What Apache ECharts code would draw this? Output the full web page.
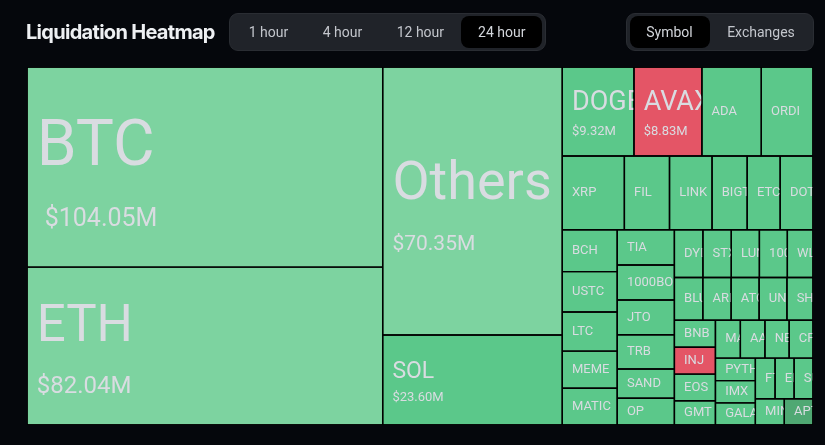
<!DOCTYPE html>
<html>
<head>
<meta charset="utf-8">
<script src="https://cdn.jsdelivr.net/npm/echarts@6/dist/echarts.min.js"></script>
<style>
html,body{margin:0;padding:0;background:#05070c;width:825px;height:445px;overflow:hidden;font-family:Roboto,sans-serif;}
#chart{position:absolute;left:0;top:0;width:825px;height:445px;}
.title{position:absolute;left:26px;top:19px;font-family:Inter,Roboto,sans-serif;font-weight:700;font-size:20px;letter-spacing:-0.7px;color:#eef0f3;line-height:26px;white-space:nowrap;}
.grp{position:absolute;top:13px;height:38px;background:#202329;border-radius:9px;box-sizing:border-box;border:1px solid #2a2d33;}
.pill{position:absolute;top:2px;height:32px;background:#000;border-radius:8px;}
.btn{position:absolute;top:0;height:36px;line-height:36px;width:90px;text-align:center;font-size:14px;color:#c3c6cc;white-space:nowrap;}
.btn.sel{color:#d3d6db;}
</style>
</head>
<body>
<div id="chart"></div>
<div class="title">Liquidation Heatmap</div>
<div class="grp" style="left:229px;width:317px;">
  <div class="pill" style="left:231px;width:81px;"></div>
  <div class="btn" style="left:-6.5px;">1 hour</div>
  <div class="btn" style="left:67.5px;">4 hour</div>
  <div class="btn" style="left:145.4px;">12 hour</div>
  <div class="btn sel" style="left:226.8px;">24 hour</div>
</div>
<div class="grp" style="left:626px;width:188px;">
  <div class="pill" style="left:3px;width:80px;"></div>
  <div class="btn sel" style="left:-2.5px;">Symbol</div>
  <div class="btn" style="left:89px;">Exchanges</div>
</div>
<script>
// Symbols and their 24h liquidation totals (millions of USD)
const symbols = ['BTC','ETH','Others','SOL','DOGE','AVAX','ADA','ORDI',
  'XRP','FIL','LINK','BIGTIME','ETC','DOT',
  'BCH','USTC','LTC','MEME','MATIC',
  'TIA','1000BONK','JTO','TRB','SAND','OP',
  'DYDX','STX','LUNC','1000PEPE','WLD',
  'BLUR','ARB','ATOM','UNI','SHIB',
  'BNB','INJ','EOS','GMT',
  'MANA','AAVE','NEAR','CFX',
  'PYTH','IMX','GALA',
  'FTM','ENS','SUI','MINA','APT'];
const liquidations = [104.05,82.04,70.35,23.60,9.32,8.83,7.72,6.72,
  6.70,4.87,4.59,3.79,3.56,3.54,
  3.36,3.25,3.14,2.98,2.95,
  2.94,2.93,2.90,2.86,2.44,2.24,
  1.99,1.98,1.96,1.95,1.79,
  1.78,1.77,1.75,1.74,1.63,
  1.62,1.61,1.60,1.45,
  1.38,1.36,1.34,1.32,
  1.31,1.30,1.29,
  1.17,1.13,1.12,1.11,1.10];
// tiles shown red (short side dominant) / muted
const shortSide = ['AVAX','INJ'];
const mutedSide = ['APT'];
const headline = ['BTC','ETH','Others'];

const LIGHT = '#7dd3a0', MID = '#5bc88a', RED = '#e45566', DARK = '#4fa873';
const TXT = '#d9dce1';
const bigLabel = {
  BTC:    {n: 64, nl: 104, v: 25, vl: 38, vi: 8},
  ETH:    {n: 51, nl: 80,  v: 24, vl: 37, vi: 0},
  Others: {n: 54, nl: 86,  v: 21, vl: 32, vi: 0},
  SOL:    {n: 23, nl: 34,  v: 13, vl: 17, vi: 0},
  DOGE:   {n: 27, nl: 39,  v: 13, vl: 18, vi: 0},
  AVAX:   {n: 27, nl: 39,  v: 13, vl: 18, vi: 0}
};
function colorOf(name) {
  if (shortSide.includes(name)) return RED;
  if (mutedSide.includes(name)) return DARK;
  if (headline.includes(name)) return LIGHT;
  return MID;
}
const data = symbols.map((name, i) => {
  const item = { name: name, value: liquidations[i], itemStyle: { color: colorOf(name) } };
  const b = bigLabel[name];
  if (b) {
    item.label = {
      padding: [0, 0, 0, 9],
      formatter: '{n|' + name + '}\n{v|$' + liquidations[i].toFixed(2) + 'M}',
      rich: {
        n: { fontSize: b.n, lineHeight: b.nl, color: TXT, fontFamily: 'Roboto' },
        v: { fontSize: b.v, lineHeight: b.vl, color: TXT, fontFamily: 'Roboto', padding: [0, 0, 0, b.vi] }
      }
    };
  }
  return item;
});

const chart = echarts.init(document.getElementById('chart'), null, { renderer: 'canvas' });
chart.setOption({
  backgroundColor: 'transparent',
  animation: false,
  tooltip: { show: false },
  series: [{
    type: 'treemap',
    left: 27, top: 67, width: 786, height: 358,
    roam: false,
    nodeClick: false,
    breadcrumb: { show: false },
    sort: 'desc',
    visibleMin: 0,
    silent: true,
    label: {
      show: true,
      position: 'insideLeft',
      distance: 0,
      padding: [0, 0, 0, 9],
      fontFamily: 'Roboto',
      fontSize: 13,
      color: TXT,
      overflow: 'none',
      formatter: '{b}'
    },
    upperLabel: { show: false },
    itemStyle: { borderColor: '#000', borderWidth: 0, gapWidth: 0 },
    levels: [
      { itemStyle: { borderWidth: 0, gapWidth: 0, borderColor: '#000' } },
      { itemStyle: { borderWidth: 0.7, borderColor: '#000' } }
    ],
    data: data
  }]
});

// Rich labels are top-aligned inside the tile, so centre them using the tile height computed by the treemap layout.
(function centreRichLabels() {
  let sData = null;
  try { sData = chart.getModel().getSeriesByIndex(0).getData(); } catch (e) { return; }
  if (!sData) return;
  for (let i = 0; i < sData.count(); i++) {
    const name = sData.getName(i);
    const b = bigLabel[name];
    const lay = sData.getItemLayout(i);
    if (!b || !lay) continue;
    const idx = symbols.indexOf(name);
    const topPad = Math.max(0, (lay.height - b.nl - b.vl) / 2);
    data[idx].label.padding = [topPad, 0, 0, 9];
  }
  chart.setOption({ series: [{ data: data }] });
})();

// Clip every tile label to its own tile (labels are cut at the tile edge).
(function clipLabels() {
  try {
    const zr = chart.getZr();
    const list = zr.storage.getDisplayList(true);
    list.forEach(function (el) {
      if (el.type !== 'rect' || !el.getTextContent || !el.getTextContent()) return;
      const s = el.shape;
      el.setClipPath(new echarts.graphic.Rect({ shape: { x: s.x, y: s.y, width: s.width, height: s.height } }));
    });
    zr.refreshImmediately();
  } catch (e) { /* keep unclipped labels */ }
})();
</script>
</body>
</html>
